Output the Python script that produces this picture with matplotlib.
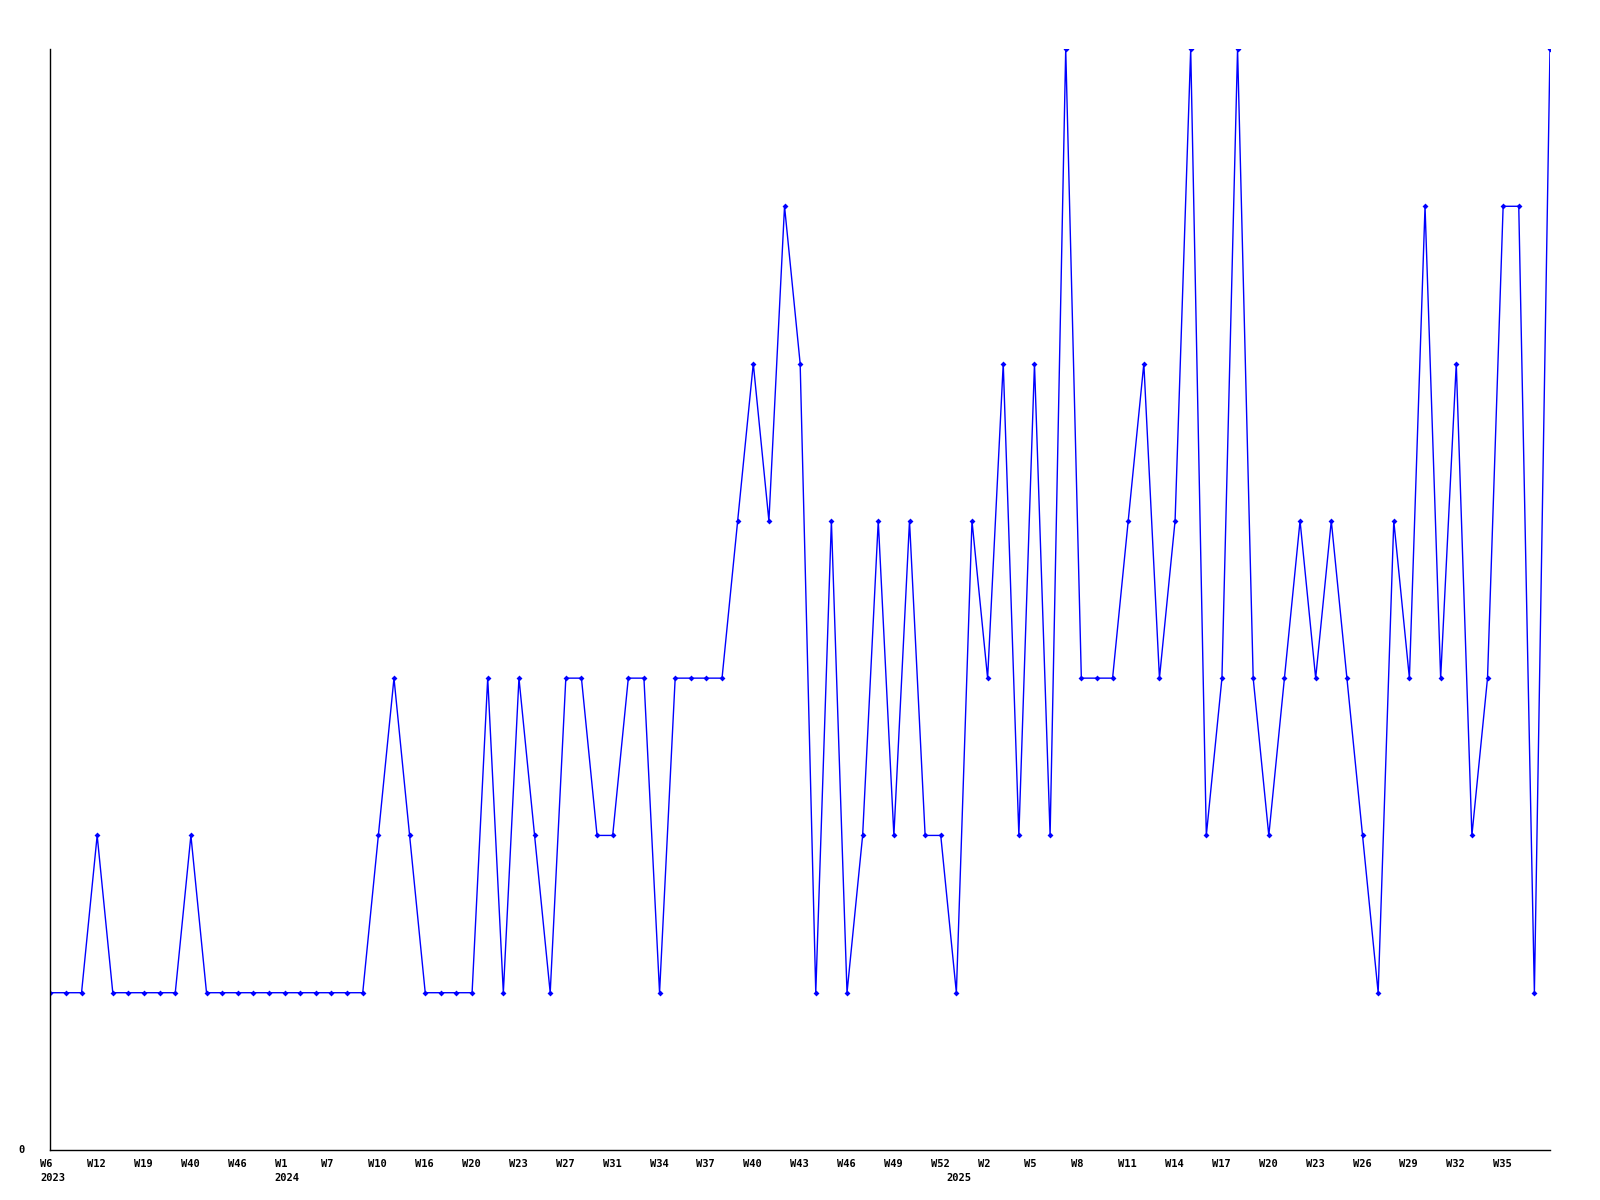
import matplotlib
matplotlib.use("Agg")
import matplotlib.pyplot as plt
import matplotlib.transforms as mtransforms

# weekly counts, one point per reported week
values = [1, 1, 1, 2, 1, 1, 1, 1, 1, 2,
          1, 1, 1, 1, 1, 1, 1, 1, 1, 1,
          1, 2, 3, 2, 1, 1, 1, 1, 3, 1,
          3, 2, 1, 3, 3, 2, 2, 3, 3, 1,
          3, 3, 3, 3, 4, 5, 4, 6, 5, 1,
          4, 1, 2, 4, 2, 4, 2, 2, 1, 4,
          3, 5, 2, 5, 2, 7, 3, 3, 3, 4,
          5, 3, 4, 7, 2, 3, 7, 3, 2, 3,
          4, 3, 4, 3, 2, 1, 4, 3, 6, 3,
          5, 2, 3, 6, 6, 1, 7]

# every third point gets a week label
tick_labels = ["W6", "W12", "W19", "W40", "W46", "W1", "W7", "W10", "W16", "W20",
               "W23", "W27", "W31", "W34", "W37", "W40", "W43", "W46", "W49", "W52",
               "W2", "W5", "W8", "W11", "W14", "W17", "W20", "W23", "W26", "W29",
               "W32", "W35"]
tick_step = 3

# year label and index of the first point of that year
year_labels = ["2023", "2024", "2025"]
year_starts = [0, 15, 58]

FONT = dict(family="DejaVu Sans Mono", fontweight="bold", fontsize=7.5, color="black")

fig = plt.figure(figsize=(16, 12), dpi=100)
ax = fig.add_axes([50.3 / 1600, 1 - 1150 / 1200, 1499.7 / 1600, 1101 / 1200])

x = list(range(len(values)))
ax.plot(x, values, color="#0000FF", linewidth=1.0,
        marker="D", markersize=3, markerfacecolor="#0000FF", markeredgewidth=0)

ax.set_xlim(0, len(values) - 1)
ax.set_ylim(0, max(values))

for side in ["top", "right"]:
    ax.spines[side].set_visible(False)
for side in ["left", "bottom"]:
    ax.spines[side].set_linewidth(1.0)
    ax.spines[side].set_color("black")

shift = mtransforms.ScaledTranslation(-10 / 100, 0, fig.dpi_scale_trans)

ax.set_xticks(x[::tick_step][:len(tick_labels)])
ax.set_xticklabels(tick_labels, ha="left", **FONT)
ax.tick_params(axis="x", length=0, pad=6.5)
for lab in ax.get_xticklabels():
    lab.set_transform(lab.get_transform() + shift)

ax.set_yticks([0])
ax.set_yticklabels(["0"], **FONT)
ax.tick_params(axis="y", length=0, pad=23)
for lab in ax.get_yticklabels():
    lab.set_horizontalalignment("left")
    lab.set_verticalalignment("center")

# year row under the week labels
trans = mtransforms.blended_transform_factory(ax.transData, ax.transAxes)
year_shift = mtransforms.ScaledTranslation(-10 / 100, -23 / 100, fig.dpi_scale_trans)
for label, idx in zip(year_labels, year_starts):
    ax.text(idx, 0, label, transform=trans + year_shift, ha="left", va="top", **FONT)

fig.savefig("out.png", dpi=100, facecolor="white")
